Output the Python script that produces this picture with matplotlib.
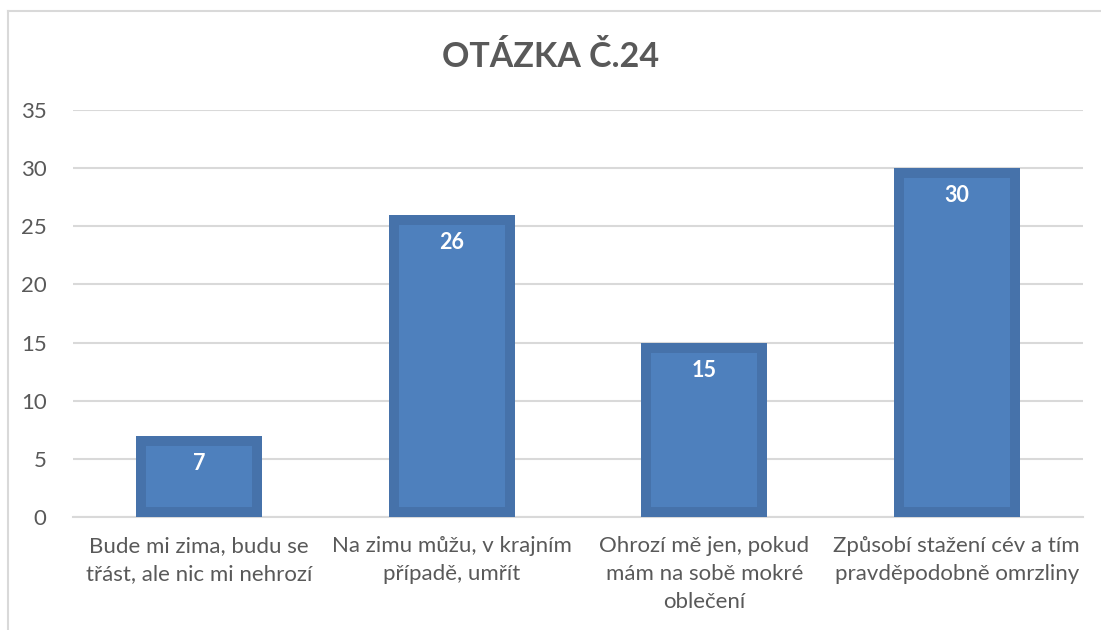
import matplotlib
matplotlib.use('Agg')

import matplotlib.pyplot as plt
from matplotlib.lines import Line2D

categories = [
    "Bude mi zima, budu se\ntřást, ale nic mi nehrozí",
    "Na zimu můžu, v krajním\npřípadě, umřít",
    "Ohrozí mě jen, pokud\nmám na sobě mokré\noblečení",
    "Způsobí stažení cév a tím\npravděpodobně omrzliny",
]
values = [7, 26, 15, 30]
y_ticks = [0, 5, 10, 15, 20, 25, 30, 35]
title = "OTÁZKA Č.24"

text_gray = "#595959"
grid_gray = "#d9d9d9"
bar_inner = "#4e80bd"
bar_outer = "#4672aa"

plt.rcParams['font.family'] = ['Lato', 'DejaVu Sans']

fig = plt.figure(figsize=(11.01, 6.30), dpi=100)
ax = fig.add_axes([0.0663, 0.1794, 0.9174, 0.646])

x = range(len(values))
bars = ax.bar(x, values, width=0.5, color=bar_inner, edgecolor=bar_outer,
              linewidth=14.4, zorder=3)
# keep only the inner half of the thick edge so it looks like Excel's frame
for b in bars:
    b.set_clip_path(b)

for i, v in enumerate(values):
    ax.annotate(str(v), (i, v), xytext=(0, -20), textcoords='offset points',
                ha='center', va='center', color='white', fontsize=15.5,
                fontweight='bold', zorder=4)

ax.set_xlim(-0.5, len(values) - 0.5)
ax.set_ylim(0, 35)
ax.set_yticks(y_ticks)
ax.set_yticklabels([str(t) for t in y_ticks])
ax.set_xticks(list(x))
ax.set_xticklabels(categories, linespacing=1.5)
ax.tick_params(axis='both', length=0, labelsize=16, colors=text_gray)
ax.tick_params(axis='y', pad=19)
ax.tick_params(axis='x', pad=14)
for lbl in ax.get_xticklabels():
    lbl.set_va('top')
ax.yaxis.grid(True, color=grid_gray, linewidth=1.5, zorder=0)
ax.set_axisbelow(True)
for side in ['left', 'right', 'top']:
    ax.spines[side].set_visible(False)
ax.spines['bottom'].set_color(grid_gray)
ax.spines['bottom'].set_linewidth(1.5)

fig.text(0.5, 0.91, title, ha='center', va='center', fontsize=24.5,
         fontweight='bold', color=text_gray)

# chart frame (left and top edges visible in the crop)
fig.add_artist(Line2D([8 / 1101, 8 / 1101], [0, 1 - 11 / 630],
                      transform=fig.transFigure, color=grid_gray, linewidth=1.5))
fig.add_artist(Line2D([8 / 1101, 1], [1 - 11 / 630, 1 - 11 / 630],
                      transform=fig.transFigure, color=grid_gray, linewidth=1.5))

fig.savefig("out.png", dpi=100)
plt.close(fig)
